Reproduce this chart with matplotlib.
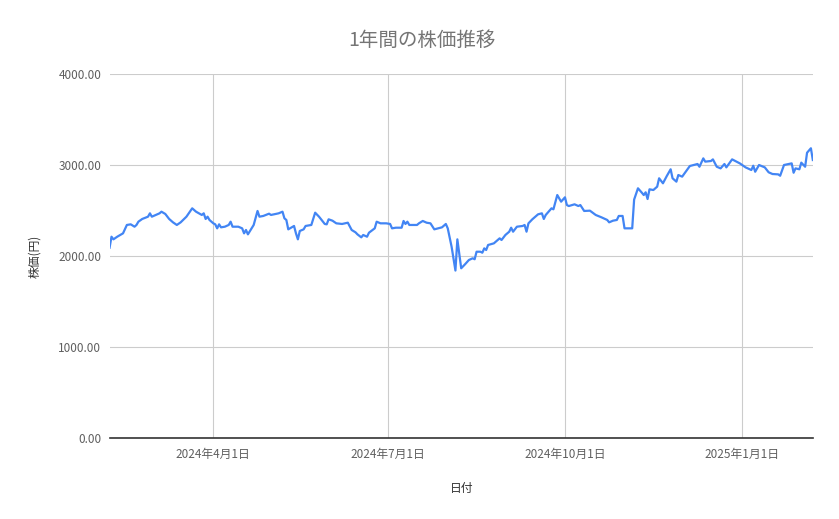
import numpy as np
import pandas as pd
import matplotlib
matplotlib.use("Agg")
import matplotlib.pyplot as plt
import matplotlib.dates as mdates

plt.rcParams['font.family'] = ['Noto Sans CJK JP', 'DejaVu Sans']

# days counted from the first date, and the closing price
start_date = "2024-02-07"
day_offsets = [
    0, 1, 2, 4, 7, 9, 11, 13, 14, 15, 17, 20, 21, 22, 24, 26, 27, 29, 31, 33,
    35, 37, 40, 43, 45, 48, 49, 50, 51, 52, 54, 55, 56, 57, 58, 60, 62, 63, 64, 67,
    69, 70, 71, 72, 75, 77, 78, 80, 83, 84, 88, 90, 91, 92, 93, 96, 97, 98, 99, 101,
    102, 105, 107, 109, 112, 113, 114, 116, 118, 121, 124, 126, 128, 129, 131, 132, 134, 135, 138, 139,
    141, 144, 146, 147, 149, 152, 153, 154, 155, 156, 160, 161, 163, 165, 167, 169, 171, 173, 175, 176,
    178, 180, 181, 183, 185, 187, 189, 190, 191, 193, 194, 195, 196, 197, 200, 201, 203, 204, 206, 208,
    209, 210, 212, 215, 216, 217, 218, 220, 223, 225, 226, 227, 230, 231, 233, 235, 237, 238, 239, 242,
    244, 245, 247, 250, 253, 256, 259, 260, 262, 264, 265, 267, 268, 272, 273, 275, 277, 278, 279, 280,
    281, 283, 285, 286, 288, 290, 292, 293, 295, 296, 298, 302, 304, 306, 307, 309, 310, 313, 314, 316,
    318, 320, 321, 324, 328, 331, 334, 335, 336, 338, 341, 343, 345, 348, 349, 351, 355, 356, 357, 359,
    360, 362, 363, 365, 366,
]
prices = [
    2091, 2212, 2183, 2212, 2249, 2341, 2348, 2322, 2341, 2377, 2407, 2432, 2469, 2432, 2451, 2469, 2487, 2462, 2407, 2370,
    2341, 2370, 2432, 2524, 2487, 2451, 2469, 2407, 2432, 2396, 2359, 2348, 2304, 2348, 2315, 2322, 2341, 2377, 2322, 2322,
    2304, 2249, 2286, 2238, 2341, 2495, 2432, 2440, 2465, 2451, 2469, 2487, 2414, 2396, 2293, 2330, 2249, 2183, 2275, 2293,
    2330, 2341, 2476, 2432, 2352, 2348, 2403, 2388, 2359, 2352, 2366, 2286, 2260, 2238, 2205, 2231, 2212, 2256, 2304, 2377,
    2359, 2359, 2352, 2304, 2311, 2311, 2385, 2352, 2377, 2341, 2341, 2359, 2385, 2366, 2359, 2293, 2304, 2315, 2352, 2304,
    2102, 1840, 2183, 1865, 1909, 1956, 1975, 1964, 2047, 2047, 2036, 2084, 2066, 2121, 2139, 2157, 2194, 2176, 2231, 2267,
    2311, 2267, 2322, 2330, 2341, 2267, 2359, 2403, 2458, 2469, 2407, 2451, 2524, 2513, 2670, 2597, 2645, 2560, 2549, 2568,
    2549, 2560, 2495, 2498, 2451, 2425, 2396, 2370, 2388, 2396, 2440, 2440, 2304, 2304, 2620, 2744, 2696, 2670, 2700, 2626,
    2733, 2725, 2762, 2854, 2799, 2879, 2953, 2854, 2817, 2890, 2872, 2989, 3000, 3011, 2981, 3073, 3037, 3044, 3062, 2981,
    2963, 3011, 2974, 3062, 3018, 2974, 2945, 2992, 2926, 3000, 2974, 2920, 2901, 2897, 2882, 3000, 3018, 2915, 2963, 2953,
    3026, 2981, 3135, 3184, 3055,
]
tick_dates = ["2024-04-01", "2024-07-01", "2024-10-01", "2025-01-01"]
tick_labels = ["2024年4月1日", "2024年7月1日", "2024年10月1日", "2025年1月1日"]
y_ticks = [0, 1000, 2000, 3000, 4000]

dates = pd.to_datetime(start_date) + pd.to_timedelta(day_offsets, unit="D")

fig = plt.figure(figsize=(8.39, 5.19), dpi=100)
ax = fig.add_axes([0.1306, 0.1561, 0.8382, 0.7013])

ax.plot(dates, prices, color="#4285F4", linewidth=1.6, zorder=3)

ax.set_xlim(dates[0], dates[-1])
ax.set_ylim(0, 4000)
ax.set_yticks(y_ticks)
ax.set_yticklabels([f"{v:.2f}" for v in y_ticks])
ax.set_xticks(pd.to_datetime(tick_dates))
ax.set_xticklabels(tick_labels)

ax.grid(True, color="#cccccc", linewidth=0.8)
ax.set_axisbelow(True)
ax.tick_params(length=0, labelsize=8.5, labelcolor="#5f5f5f")
ax.tick_params(axis="y", pad=6)
ax.tick_params(axis="x", pad=7)
for side in ["top", "right", "left"]:
    ax.spines[side].set_visible(False)
ax.spines["bottom"].set_color("#333333")
ax.spines["bottom"].set_linewidth(1.2)
ax.spines["bottom"].set_zorder(4)

ax.set_xlabel("日付", fontsize=8.5, color="#333333", labelpad=15)
ax.set_ylabel("株価(円)", fontsize=8.5, color="#333333", labelpad=12)
fig.suptitle("1年間の株価推移", x=0.503, y=0.942, fontsize=14, color="#757575")

fig.savefig("out.png", dpi=100)
